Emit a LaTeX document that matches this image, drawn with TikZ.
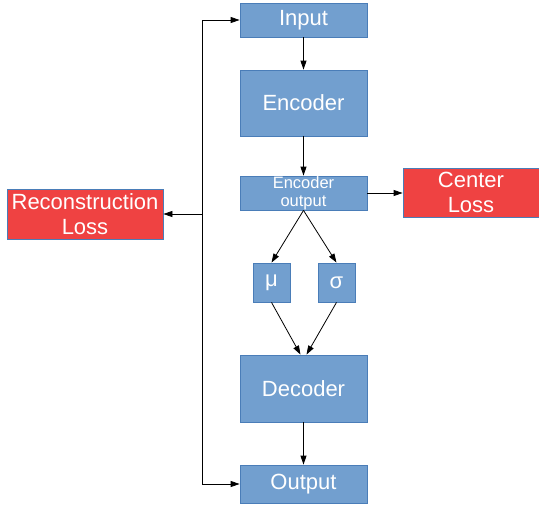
\documentclass[tikz,border=0pt]{standalone}
\usepackage{fontspec}
\setmainfont{Liberation Sans}
\usetikzlibrary{arrows.meta}
\definecolor{boxblue}{HTML}{729FCF}
\definecolor{lineblue}{HTML}{4A7DB8}
\definecolor{lossred}{HTML}{EF4242}
\tikzset{
  blockbox/.style={draw=lineblue, line width=0.8pt, fill=boxblue, text=white, inner sep=0pt,
    align=center, font=\fontsize{22}{25}\selectfont},
  lossbox/.style={blockbox, fill=lossred},
  flow/.style={-{Triangle[length=9pt,width=6pt]}, line width=0.8pt}
}
\begin{document}
\begin{tikzpicture}[x=1pt,y=1pt,yscale=-1]
	\useasboundingbox (0,0) rectangle (539,507);

	\node[blockbox, minimum width=127pt, minimum height=34pt] (input) at (303.5,20) {Input};
	\node[blockbox, minimum width=127pt, minimum height=66pt] (encoder) at (303.5,103) {Encoder};
	\node[blockbox, minimum width=127pt, minimum height=34pt, font=\fontsize{16.5}{18}\selectfont] (encout) at (303.5,193) {Encoder\\output};
	\node[lossbox, minimum width=136pt, minimum height=49pt] (center) at (471,192.5) {Center\\Loss};
	\node[lossbox, minimum width=156pt, minimum height=50pt] (recon) at (85,214) {Reconstruction\\Loss};
	\node[blockbox, minimum width=37pt, minimum height=39pt] (mu) at (271.5,282.5) {μ};
	\node[blockbox, minimum width=37pt, minimum height=39pt] (sigma) at (336.5,282.5) {σ};
	\node[blockbox, minimum width=127pt, minimum height=67pt] (decoder) at (303.5,388.5) {Decoder};
	\node[blockbox, minimum width=127pt, minimum height=38pt] (output) at (303.5,484) {Output};

	\coordinate (split) at (202,214);

	\draw[flow] (input) -- (encoder);
	\draw[flow] (encoder) -- (encout);
	\draw[flow] (encout.east) -- (center.west |- encout.east);
	\draw[flow] (encout.south) -- (mu.north);
	\draw[flow] (encout.south) -- (sigma.north);
	\draw[flow] (mu.south) -- ([xshift=-3pt]decoder.north);
	\draw[flow] (sigma.south) -- ([xshift=3pt]decoder.north);
	\draw[flow] (decoder) -- (output);
	\draw[flow] (split) -- (recon.east);
	\draw[flow] (split) |- (input.west);
	\draw[flow] (split) |- (output.west);

\end{tikzpicture}
\end{document}
